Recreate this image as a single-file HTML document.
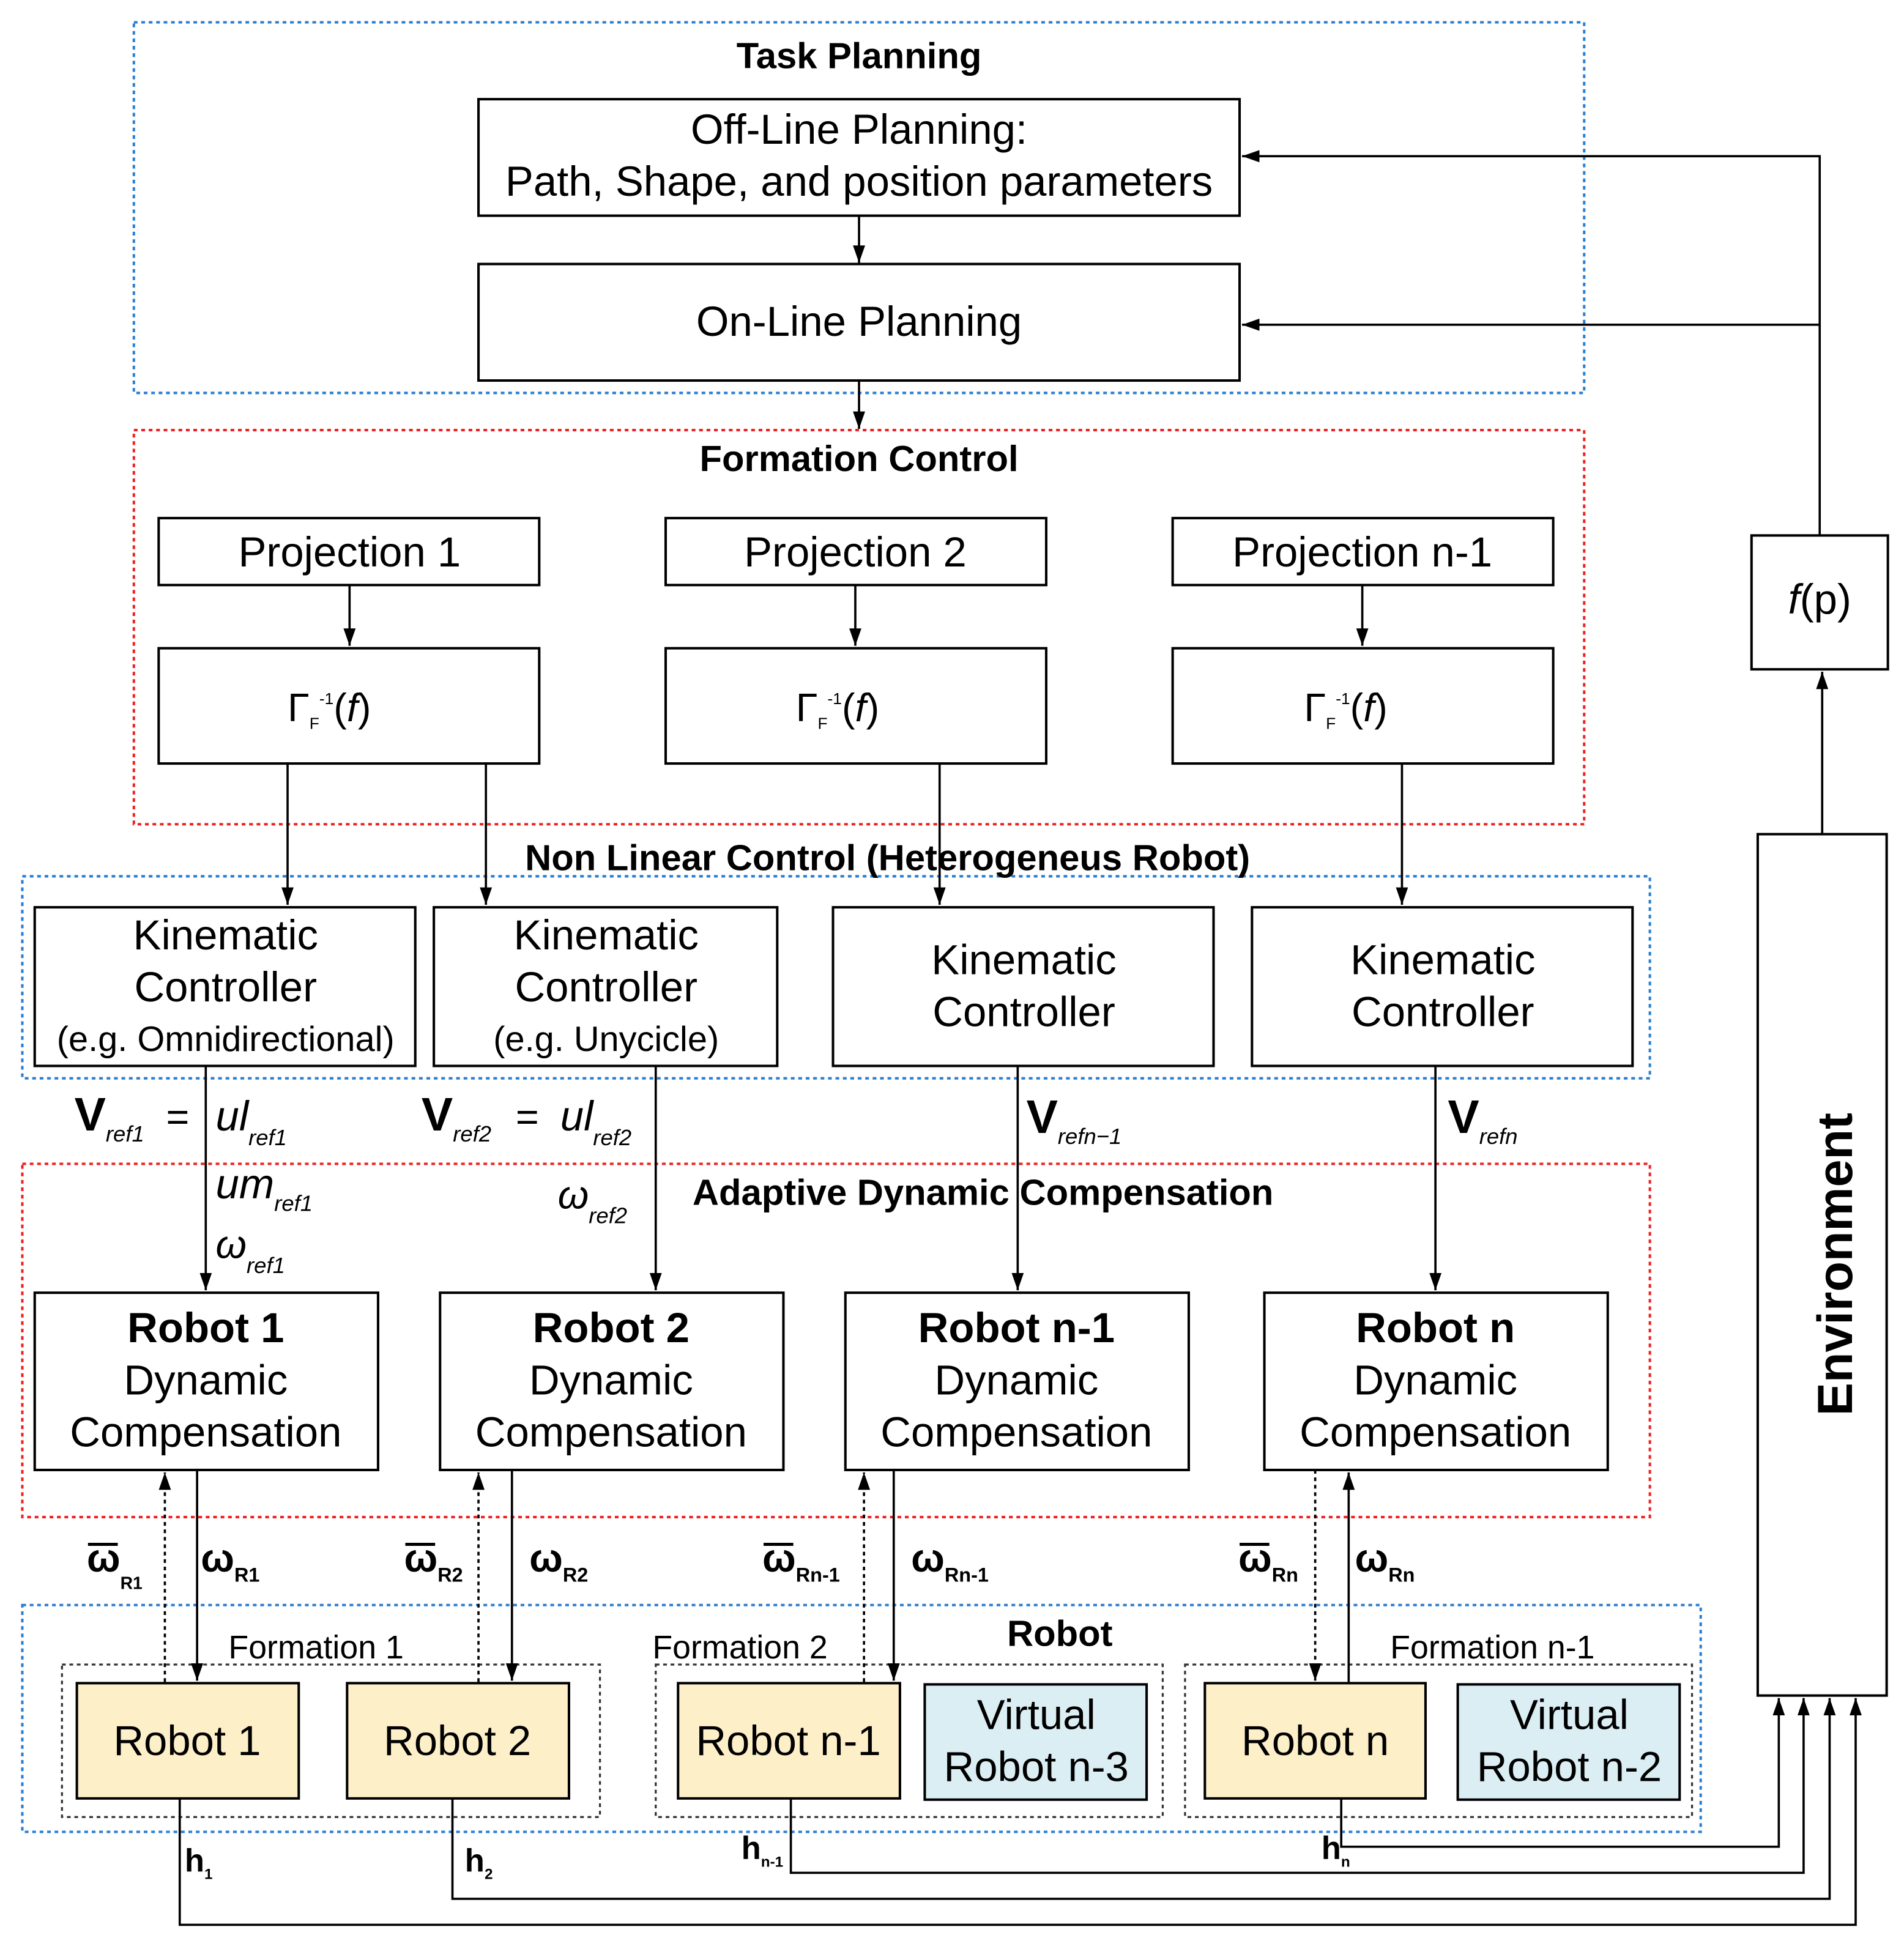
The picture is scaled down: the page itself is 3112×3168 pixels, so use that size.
<!DOCTYPE html>
<html><head><meta charset="utf-8"><style>html,body{margin:0;padding:0;background:#fff}svg{display:block}</style></head>
<body>
<svg xmlns="http://www.w3.org/2000/svg" width="3112" height="3168" viewBox="0 0 1536 1563.6">
<defs>
<marker id="b" viewBox="0 0 10 10" refX="10" refY="5" markerWidth="14" markerHeight="14" orient="auto" markerUnits="userSpaceOnUse"><path d="M0,1.5L10,5L0,8.5z" fill="#000"/></marker>
</defs>
<style>
text{font-family:"Liberation Sans",sans-serif;fill:#000}
.t{font-size:34px;text-anchor:middle}
.s{font-size:28.5px;text-anchor:middle}
.f{font-size:26.5px;text-anchor:middle}
.h{font-size:29.5px;font-weight:bold;text-anchor:middle}
.bx{fill:#fff;stroke:#000;stroke-width:2}
.ln{stroke:#000;stroke-width:1.8;fill:none}
</style>
<rect x="108" y="18" width="1170" height="299" fill="none" stroke="#2a7fd0" stroke-width="2" stroke-dasharray="3,3"/>
<rect x="108" y="347" width="1170" height="318" fill="none" stroke="#ee2222" stroke-width="2" stroke-dasharray="3,3"/>
<rect x="18" y="707" width="1313" height="163" fill="none" stroke="#2a7fd0" stroke-width="2" stroke-dasharray="3,3"/>
<rect x="18" y="939" width="1313" height="285" fill="none" stroke="#ee2222" stroke-width="2" stroke-dasharray="3,3"/>
<rect x="18" y="1295" width="1354" height="183" fill="none" stroke="#2a7fd0" stroke-width="2" stroke-dasharray="3,3"/>
<rect x="50" y="1343" width="434" height="123" fill="none" stroke="#333" stroke-width="1.6" stroke-dasharray="3,3"/>
<rect x="529" y="1343" width="409" height="123" fill="none" stroke="#333" stroke-width="1.6" stroke-dasharray="3,3"/>
<rect x="956" y="1343" width="409" height="123" fill="none" stroke="#333" stroke-width="1.6" stroke-dasharray="3,3"/>

<text x="693" y="55" class="h">Task Planning</text>
<text x="693" y="380" class="h">Formation Control</text>
<text x="716" y="702" class="h">Non Linear Control (Heterogeneus Robot)</text>
<text x="793" y="972" class="h">Adaptive Dynamic Compensation</text>
<text x="855" y="1328" class="h">Robot</text>
<text x="255" y="1338" class="f">Formation 1</text>
<text x="597" y="1338" class="f">Formation 2</text>
<text x="1204" y="1338" class="f">Formation n-1</text>

<rect x="386" y="80" width="614" height="94" class="bx"/>
<text x="693" y="116" class="t">Off-Line Planning:</text>
<text x="693" y="158" class="t">Path, Shape, and position parameters</text>
<rect x="386" y="213" width="614" height="94" class="bx"/>
<text x="693" y="271" class="t">On-Line Planning</text>
<line x1="693" y1="174" x2="693" y2="212" class="ln" marker-end="url(#b)"/>
<line x1="693" y1="307" x2="693" y2="346" class="ln" marker-end="url(#b)"/>

<rect x="128" y="418" width="307" height="54" class="bx"/><text x="282" y="457" class="t">Projection 1</text>
<rect x="537" y="418" width="307" height="54" class="bx"/><text x="690" y="457" class="t">Projection 2</text>
<rect x="946" y="418" width="307" height="54" class="bx"/><text x="1099" y="457" class="t">Projection n-1</text>
<line x1="282" y1="472" x2="282" y2="521" class="ln" marker-end="url(#b)"/>
<line x1="690" y1="472" x2="690" y2="521" class="ln" marker-end="url(#b)"/>
<line x1="1099" y1="472" x2="1099" y2="521" class="ln" marker-end="url(#b)"/>
<rect x="128" y="523" width="307" height="93" class="bx"/>
<rect x="537" y="523" width="307" height="93" class="bx"/>
<rect x="946" y="523" width="307" height="93" class="bx"/>
<g font-family="Liberation Serif,serif" font-size="32">
<text x="232" y="582">Γ<tspan font-size="13" dy="6">F</tspan><tspan font-size="13" dy="-20">-1</tspan><tspan dy="14">(</tspan><tspan font-style="italic">f</tspan>)</text>
<text x="642" y="582">Γ<tspan font-size="13" dy="6">F</tspan><tspan font-size="13" dy="-20">-1</tspan><tspan dy="14">(</tspan><tspan font-style="italic">f</tspan>)</text>
<text x="1052" y="582">Γ<tspan font-size="13" dy="6">F</tspan><tspan font-size="13" dy="-20">-1</tspan><tspan dy="14">(</tspan><tspan font-style="italic">f</tspan>)</text>
</g>
<line x1="232" y1="616" x2="232" y2="730" class="ln" marker-end="url(#b)"/>
<line x1="392" y1="616" x2="392" y2="730" class="ln" marker-end="url(#b)"/>
<line x1="758" y1="616" x2="758" y2="730" class="ln" marker-end="url(#b)"/>
<line x1="1131" y1="616" x2="1131" y2="730" class="ln" marker-end="url(#b)"/>

<rect x="28" y="732" width="307" height="128" class="bx"/>
<text x="182" y="766" class="t">Kinematic</text><text x="182" y="808" class="t">Controller</text><text x="182" y="848" class="s">(e.g. Omnidirectional)</text>
<rect x="350" y="732" width="277" height="128" class="bx"/>
<text x="489" y="766" class="t">Kinematic</text><text x="489" y="808" class="t">Controller</text><text x="489" y="848" class="s">(e.g. Unycicle)</text>
<rect x="672" y="732" width="307" height="128" class="bx"/>
<text x="826" y="786" class="t">Kinematic</text><text x="826" y="828" class="t">Controller</text>
<rect x="1010" y="732" width="307" height="128" class="bx"/>
<text x="1164" y="786" class="t">Kinematic</text><text x="1164" y="828" class="t">Controller</text>

<line x1="166" y1="860" x2="166" y2="1041" class="ln" marker-end="url(#b)"/>
<line x1="529" y1="860" x2="529" y2="1041" class="ln" marker-end="url(#b)"/>
<line x1="821" y1="860" x2="821" y2="1041" class="ln" marker-end="url(#b)"/>
<line x1="1158" y1="860" x2="1158" y2="1041" class="ln" marker-end="url(#b)"/>

<g font-family="Liberation Serif,serif">
<text x="60" y="912" font-size="38" font-weight="bold">V<tspan font-size="18" font-style="italic" font-weight="normal" dy="9">ref1</tspan></text>
<text x="134" y="912" font-size="32">=</text>
<text x="174" y="912" font-size="34" font-style="italic">ul<tspan font-size="18" dy="12">ref1</tspan></text>
<text x="340" y="912" font-size="38" font-weight="bold">V<tspan font-size="18" font-style="italic" font-weight="normal" dy="9">ref2</tspan></text>
<text x="416" y="912" font-size="32">=</text>
<text x="452" y="912" font-size="34" font-style="italic">ul<tspan font-size="18" dy="12">ref2</tspan></text>
<text x="174" y="967" font-size="34" font-style="italic">um<tspan font-size="18" dy="10">ref1</tspan></text>
<text x="174" y="1015" font-size="32" font-style="italic">ω<tspan font-size="18" dy="12">ref1</tspan></text>
<text x="450" y="975" font-size="32" font-style="italic">ω<tspan font-size="18" dy="12">ref2</tspan></text>
<text x="828" y="914" font-size="38" font-weight="bold">V<tspan font-size="18" font-style="italic" font-weight="normal" dy="9">refn−1</tspan></text>
<text x="1168" y="914" font-size="38" font-weight="bold">V<tspan font-size="18" font-style="italic" font-weight="normal" dy="9">refn</tspan></text>
</g>

<rect x="28" y="1043" width="277" height="143" class="bx"/>
<text x="166" y="1083" class="t" font-weight="bold">Robot 1</text><text x="166" y="1125" class="t">Dynamic</text><text x="166" y="1167" class="t">Compensation</text>
<rect x="355" y="1043" width="277" height="143" class="bx"/>
<text x="493" y="1083" class="t" font-weight="bold">Robot 2</text><text x="493" y="1125" class="t">Dynamic</text><text x="493" y="1167" class="t">Compensation</text>
<rect x="682" y="1043" width="277" height="143" class="bx"/>
<text x="820" y="1083" class="t" font-weight="bold">Robot n-1</text><text x="820" y="1125" class="t">Dynamic</text><text x="820" y="1167" class="t">Compensation</text>
<rect x="1020" y="1043" width="277" height="143" class="bx"/>
<text x="1158" y="1083" class="t" font-weight="bold">Robot n</text><text x="1158" y="1125" class="t">Dynamic</text><text x="1158" y="1167" class="t">Compensation</text>

<g class="ln">
<line x1="133" y1="1357" x2="133" y2="1188" stroke-dasharray="3,3" marker-end="url(#b)"/>
<line x1="159" y1="1186" x2="159" y2="1356" marker-end="url(#b)"/>
<line x1="386" y1="1357" x2="386" y2="1188" stroke-dasharray="3,3" marker-end="url(#b)"/>
<line x1="413" y1="1186" x2="413" y2="1356" marker-end="url(#b)"/>
<line x1="697" y1="1357" x2="697" y2="1188" stroke-dasharray="3,3" marker-end="url(#b)"/>
<line x1="721" y1="1186" x2="721" y2="1356" marker-end="url(#b)"/>
<line x1="1061" y1="1186" x2="1061" y2="1356" stroke-dasharray="3,3" marker-end="url(#b)"/>
<line x1="1088" y1="1357" x2="1088" y2="1188" marker-end="url(#b)"/>
</g>
<g font-family="Liberation Serif,serif" font-weight="bold" font-size="32">
<text x="70" y="1268">ω<tspan font-size="14" dy="14">R1</tspan></text>
<text x="162" y="1268">ω<tspan font-size="16" dy="8">R1</tspan></text>
<text x="326" y="1268">ω<tspan font-size="16" dy="8">R2</tspan></text>
<text x="427" y="1268">ω<tspan font-size="16" dy="8">R2</tspan></text>
<text x="615" y="1268">ω<tspan font-size="16" dy="8">Rn-1</tspan></text>
<text x="735" y="1268">ω<tspan font-size="16" dy="8">Rn-1</tspan></text>
<text x="999" y="1268">ω<tspan font-size="16" dy="8">Rn</tspan></text>
<text x="1093" y="1268">ω<tspan font-size="16" dy="8">Rn</tspan></text>
</g>
<g stroke="#000" stroke-width="2.5">
<line x1="71" y1="1246" x2="95" y2="1246"/>
<line x1="327" y1="1246" x2="351" y2="1246"/>
<line x1="616" y1="1246" x2="640" y2="1246"/>
<line x1="1000" y1="1246" x2="1024" y2="1246"/>
</g>

<g stroke="#000" stroke-width="2">
<rect x="62" y="1358" width="179" height="93" fill="#fdefc8"/>
<rect x="280" y="1358" width="179" height="93" fill="#fdefc8"/>
<rect x="547" y="1358" width="179" height="93" fill="#fdefc8"/>
<rect x="972" y="1358" width="178" height="93" fill="#fdefc8"/>
<rect x="746" y="1359" width="179" height="93" fill="#dbeef4"/>
<rect x="1176" y="1359" width="179" height="93" fill="#dbeef4"/>
</g>
<text x="151" y="1416" class="t">Robot 1</text>
<text x="369" y="1416" class="t">Robot 2</text>
<text x="636" y="1416" class="t">Robot n-1</text>
<text x="1061" y="1416" class="t">Robot n</text>
<text x="836" y="1395" class="t">Virtual</text><text x="836" y="1437" class="t">Robot n-3</text>
<text x="1266" y="1395" class="t">Virtual</text><text x="1266" y="1437" class="t">Robot n-2</text>

<rect x="1418" y="673" width="104" height="695" class="bx"/>
<text transform="translate(1494,1020) rotate(-90)" font-size="40" font-weight="bold" text-anchor="middle">Environment</text>
<rect x="1413" y="432" width="110" height="108" class="bx"/>
<text x="1468" y="495" font-family="Liberation Serif,serif" font-size="34" text-anchor="middle"><tspan font-style="italic">f</tspan>(p)</text>
<line x1="1470" y1="673" x2="1470" y2="542" class="ln" marker-end="url(#b)"/>
<polyline points="1468,432 1468,126 1002,126" class="ln" marker-end="url(#b)"/>
<line x1="1468" y1="262" x2="1002" y2="262" class="ln" marker-end="url(#b)"/>

<polyline points="145,1451 145,1553 1497,1553 1497,1370" class="ln" marker-end="url(#b)"/>
<polyline points="365,1451 365,1532 1476,1532 1476,1370" class="ln" marker-end="url(#b)"/>
<polyline points="638,1451 638,1511 1455,1511 1455,1370" class="ln" marker-end="url(#b)"/>
<polyline points="1082,1451 1082,1490 1435,1490 1435,1370" class="ln" marker-end="url(#b)"/>
<g font-family="Liberation Serif,serif" font-weight="bold" font-size="26">
<text x="149" y="1510">h<tspan font-size="12" dy="6">1</tspan></text>
<text x="375" y="1510">h<tspan font-size="12" dy="6">2</tspan></text>
<text x="598" y="1500">h<tspan font-size="12" dy="6">n-1</tspan></text>
<text x="1066" y="1500">h<tspan font-size="12" dy="6">n</tspan></text>
</g>
</svg>
</body></html>
